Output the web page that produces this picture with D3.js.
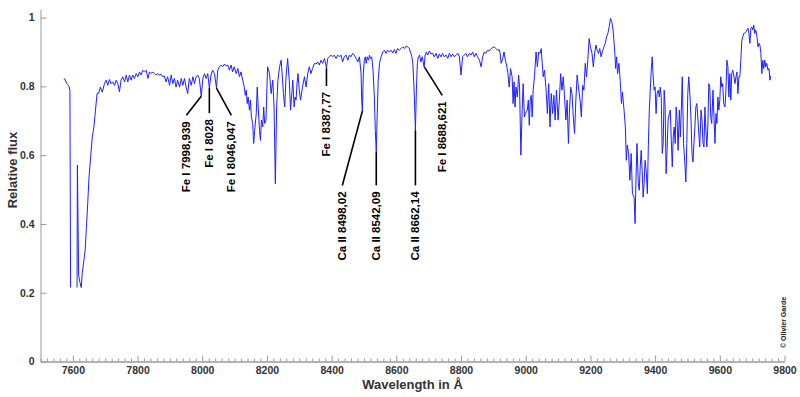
<!DOCTYPE html>
<html>
<head>
<meta charset="utf-8">
<script src="https://cdn.jsdelivr.net/npm/d3@7"></script>
<style>
    body { margin: 0; background: #fff; }
    svg { display: block; font-family: "Liberation Sans", Arial, Helvetica, sans-serif; }
    .axis path, .axis line { stroke: #9a9a9a; }
    .axis text { fill: #333; font-size: 10.5px; font-weight: bold; }
    .title { fill: #333; font-size: 13px; font-weight: bold; }
    .note { fill: #000; font-size: 11.5px; font-weight: bold; }
</style>
</head>
<body>
<svg width="800" height="397"></svg>
<script>
// spectrum (wavelength in A, relative flux; null = gap)
const wavelength = [
    7572, 7575, 7580, 7583, 7588, 7591, 7593, 7603, 7613, 7614, 7618, 7622, 7626, 7629, 7634, 7638,
    7642, 7646, 7650, 7655, 7660, 7665, 7670, 7675, 7680, 7685, 7691, 7698, 7703, 7708, 7713, 7718,
    7723, 7729, 7734, 7739, 7744, 7749, 7754, 7760, 7765, 7770, 7775, 7780, 7785, 7790, 7796, 7801,
    7806, 7811, 7816, 7821, 7827, 7832, 7837, 7842, 7847, 7852, 7858, 7862, 7868, 7873, 7878, 7883,
    7888, 7893, 7899, 7904, 7909, 7914, 7919, 7924, 7930, 7935, 7940, 7945, 7950, 7955, 7960, 7966,
    7971, 7976, 7981, 7986, 7991, 7997, 8002, 8007, 8012, 8017, 8022, 8027, 8032, 8038, 8044, 8048,
    8053, 8058, 8063, 8069, 8074, 8079, 8084, 8089, 8094, 8099, 8105, 8110, 8115, 8120, 8125, 8130,
    8133, 8136, 8139, 8142, 8146, 8149, 8152, 8156, 8159, 8162, 8167, 8170, 8173, 8177, 8180, 8183,
    8187, 8190, 8193, 8197, 8202, 8208, 8213, 8218, 8222, 8226, 8230, 8234, 8239, 8244, 8247, 8251,
    8255, 8259, 8264, 8269, 8273, 8277, 8280, 8284, 8287, 8290, 8293, 8296, 8300, 8304, 8310, 8316,
    8321, 8326, 8331, 8336, 8341, 8347, 8352, 8357, 8362, 8367, 8372, 8378, 8384, 8388, 8393, 8398,
    8403, 8408, 8414, 8419, 8424, 8429, 8434, 8439, 8445, 8450, 8455, 8460, 8465, 8470, 8476, 8481,
    8486, 8491, 8493, 8495, 8498, 8501, 8504, 8507, 8510, 8514, 8517, 8520, 8524, 8528, 8532, 8535,
    8538, 8541, 8544, 8548, 8553, 8558, 8563, 8568, 8573, 8578, 8584, 8589, 8594, 8599, 8604, 8609,
    8615, 8620, 8625, 8630, 8635, 8640, 8645, 8648, 8651, 8655, 8659, 8662, 8665, 8668, 8672, 8676,
    8680, 8686, 8689, 8693, 8697, 8702, 8707, 8712, 8717, 8723, 8728, 8733, 8738, 8743, 8748, 8754,
    8759, 8764, 8769, 8774, 8779, 8785, 8790, 8795, 8800, 8805, 8810, 8815, 8820, 8826, 8831, 8836,
    8841, 8846, 8851, 8857, 8862, 8867, 8872, 8877, 8882, 8887, 8893, 8898, 8903, 8908, 8913, 8918,
    8921, 8924, 8929, 8933, 8937, 8941, 8945, 8949, 8953, 8958, 8961, 8964, 8967, 8970, 8974, 8978,
    8981, 8985, 8989, 8992, 8996, 8999, 9002, 9005, 9008, 9011, 9014, 9017, 9020, 9023, 9027, 9032,
    9036, 9040, 9044, 9048, 9051, 9054, 9058, 9063, 9067, 9071, 9075, 9079, 9083, 9087, 9091, 9095,
    9100, 9104, 9108, 9112, 9116, 9120, 9124, 9128, 9132, 9135, 9139, 9143, 9147, 9151, 9155, 9159,
    9163, 9168, 9172, 9176, 9180, 9184, 9188, 9192, 9196, 9200, 9205, 9209, 9213, 9217, 9221, 9225,
    9229, 9233, 9238, 9242, 9246, 9250, 9254, 9258, 9262, 9266, 9270, 9275, 9278, 9281, 9284, 9288,
    9292, 9296, 9299, 9304, 9308, 9311, 9314, 9318, 9322, 9326, 9330, 9335, 9338, 9341, 9344, 9348,
    9351, 9354, 9357, 9360, 9363, 9366, 9369, 9373, 9376, 9379, 9382, 9385, 9388, 9391, 9394, 9397,
    9400, 9403, 9406, 9410, 9413, 9416, 9419, 9422, 9425, 9428, 9431, 9434, 9437, 9440, 9444, 9447,
    9450, 9453, 9456, 9459, 9462, 9465, 9468, 9471, 9475, 9478, 9481, 9484, 9488, 9492, 9495, 9498,
    9501, 9504, 9508, 9511, 9514, 9517, 9520, 9523, 9526, 9529, 9532, 9535, 9538, 9542, 9545, 9548,
    9551, 9554, 9557, 9560, 9563, 9566, 9569, 9572, 9575, 9579, 9582, 9585, 9588, 9591, 9594, 9597,
    9600, 9603, 9606, 9609, 9612, 9616, 9619, 9622, 9625, 9628, 9631, 9634, 9637, 9640, 9643, 9647,
    9650, 9653, 9656, 9659, 9662, 9665, 9668, 9671, 9674, 9677, 9681, 9684, 9687, 9690, 9693, 9696,
    9699, 9702, 9705, 9708, 9711, 9715, 9718, 9721, 9724, 9727, 9730, 9733, 9736, 9739, 9742, 9745,
    9749, 9752, 9755, 9757
];
const flux = [
    0.820, 0.822, 0.810, 0.806, 0.800, 0.789, 0.215, null, 0.215, 0.571, 0.250, 0.230, 0.215, 0.256, 0.294, 0.323,
    0.390, 0.460, 0.536, 0.594, 0.652, 0.681, 0.731, 0.780, 0.780, 0.798, 0.783, 0.809, 0.818, 0.803, 0.820, 0.808,
    0.813, 0.803, 0.818, 0.808, 0.784, 0.818, 0.828, 0.813, 0.833, 0.813, 0.833, 0.818, 0.833, 0.823, 0.837, 0.828,
    0.842, 0.833, 0.847, 0.842, 0.847, 0.823, 0.842, 0.837, 0.842, 0.837, 0.833, 0.837, 0.833, 0.835, 0.828, 0.830,
    0.813, 0.828, 0.803, 0.833, 0.808, 0.823, 0.798, 0.818, 0.798, 0.823, 0.803, 0.823, 0.798, 0.779, 0.823, 0.803,
    0.828, 0.808, 0.828, 0.833, 0.823, 0.771, 0.823, 0.837, 0.823, 0.837, 0.795, 0.833, 0.847, 0.837, 0.795, 0.847,
    0.857, 0.862, 0.857, 0.865, 0.859, 0.862, 0.847, 0.862, 0.842, 0.857, 0.837, 0.852, 0.828, 0.842, 0.818, 0.798,
    0.774, 0.789, 0.750, 0.769, 0.731, 0.760, 0.711, 0.692, 0.634, 0.672, 0.721, 0.798, 0.740, 0.672, 0.643, 0.702,
    0.682, 0.740, 0.692, 0.702, 0.857, 0.837, 0.779, 0.818, 0.740, 0.517, 0.740, 0.818, 0.857, 0.876, 0.837, 0.779,
    0.740, 0.828, 0.881, 0.818, 0.731, 0.779, 0.818, 0.740, 0.769, 0.760, 0.808, 0.837, 0.789, 0.760, 0.798, 0.828,
    0.798, 0.837, 0.857, 0.837, 0.852, 0.867, 0.865, 0.871, 0.862, 0.876, 0.867, 0.881, 0.853, 0.881, 0.886, 0.891,
    0.886, 0.891, 0.881, 0.891, 0.886, 0.891, 0.871, 0.886, 0.891, 0.876, 0.891, 0.886, 0.896, 0.891, 0.881, 0.871,
    0.886, 0.837, 0.760, 0.728, 0.837, 0.876, 0.886, 0.867, 0.886, 0.876, 0.891, 0.881, 0.886, 0.847, 0.769, 0.672,
    0.611, 0.721, 0.818, 0.867, 0.886, 0.900, 0.905, 0.896, 0.905, 0.900, 0.905, 0.897, 0.907, 0.896, 0.910, 0.905,
    0.910, 0.915, 0.910, 0.917, 0.915, 0.910, 0.896, 0.886, 0.867, 0.789, 0.672, 0.789, 0.867, 0.886, 0.891, 0.871,
    0.886, 0.856, 0.891, 0.900, 0.891, 0.903, 0.894, 0.897, 0.886, 0.896, 0.881, 0.894, 0.886, 0.896, 0.886, 0.891,
    0.881, 0.896, 0.886, 0.894, 0.886, 0.891, 0.896, 0.886, 0.833, 0.886, 0.891, 0.896, 0.886, 0.896, 0.891, 0.900,
    0.886, 0.896, 0.886, 0.876, 0.857, 0.886, 0.900, 0.896, 0.905, 0.903, 0.910, 0.913, 0.915, 0.910, 0.905, 0.907,
    0.896, 0.867, 0.881, 0.900, 0.876, 0.862, 0.837, 0.798, 0.852, 0.828, 0.750, 0.813, 0.740, 0.798, 0.769, 0.833,
    0.798, 0.600, 0.731, 0.808, 0.711, 0.721, 0.726, 0.731, 0.760, 0.687, 0.760, 0.774, 0.711, 0.789, 0.828, 0.900,
    0.857, 0.900, 0.896, 0.910, 0.867, 0.828, 0.847, 0.789, 0.721, 0.808, 0.682, 0.779, 0.721, 0.774, 0.702, 0.789,
    0.702, 0.760, 0.837, 0.789, 0.828, 0.769, 0.702, 0.760, 0.634, 0.721, 0.798, 0.779, 0.711, 0.663, 0.760, 0.833,
    0.798, 0.760, 0.711, 0.803, 0.789, 0.867, 0.828, 0.876, 0.939, 0.915, 0.896, 0.857, 0.896, 0.920, 0.905, 0.896,
    0.910, 0.886, 0.905, 0.915, 0.925, 0.944, 0.954, 0.973, 0.998, 0.988, 0.964, 0.905, 0.852, 0.886, 0.837, 0.867,
    0.818, 0.750, 0.784, 0.731, 0.682, 0.585, 0.629, 0.605, 0.527, 0.605, 0.488, 0.478, 0.401, 0.536, 0.634, 0.517,
    0.498, 0.566, 0.614, 0.556, 0.478, 0.517, 0.585, 0.546, 0.488, 0.624, 0.731, 0.789, 0.847, 0.886, 0.828, 0.789,
    0.798, 0.721, 0.779, 0.789, 0.769, 0.798, 0.769, 0.605, 0.634, 0.789, 0.740, 0.546, 0.614, 0.702, 0.721, 0.731,
    0.643, 0.566, 0.653, 0.682, 0.634, 0.740, 0.702, 0.614, 0.731, 0.653, 0.731, 0.828, 0.634, 0.576, 0.522, 0.634,
    0.779, 0.828, 0.769, 0.702, 0.605, 0.580, 0.634, 0.682, 0.740, 0.750, 0.711, 0.663, 0.624, 0.731, 0.702, 0.634,
    0.624, 0.740, 0.672, 0.624, 0.682, 0.808, 0.798, 0.711, 0.692, 0.789, 0.711, 0.634, 0.721, 0.692, 0.769, 0.731,
    0.760, 0.828, 0.798, 0.808, 0.750, 0.740, 0.789, 0.876, 0.857, 0.769, 0.837, 0.760, 0.837, 0.847, 0.833, 0.808,
    0.828, 0.842, 0.779, 0.828, 0.828, 0.876, 0.934, 0.944, 0.954, 0.954, 0.959, 0.964, 0.969, 0.954, 0.925, 0.969,
    0.973, 0.964, 0.978, 0.954, 0.964, 0.944, 0.915, 0.925, 0.920, 0.896, 0.837, 0.876, 0.852, 0.876, 0.857, 0.867,
    0.847, 0.852, 0.818, 0.830
];

// line identifications: where the leader touches the spectrum, and where the label hangs
const lineNames = ["Fe I 7998,939", "Fe I 8028", "Fe I 8046,047", "Fe I 8387,77",
    "Ca II 8498,02", "Ca II 8542,09", "Ca II 8662,14", "Fe I 8688,621"];
const lineWave = [7997, 8022, 8044, 8384, 8495, 8538, 8659, 8687];
const lineFlux = [0.771, 0.795, 0.795, 0.853, 0.728, 0.611, 0.672, 0.856];
const labelWave = [7951, 8022, 8090, 8384, 8433, 8538, 8659, 8742];
const labelFlux = [0.716, 0.722, 0.716, 0.801, 0.512, 0.512, 0.512, 0.774];

const xMajorTicks = d3.range(7600, 9801, 200);
const xMinorTicks = d3.range(7500, 9801, 20).filter((v) => v % 200 !== 0);
const yTicks = [0, 0.2, 0.4, 0.6, 0.8, 1];

const svg = d3.select("svg");

const x = d3.scaleLinear().domain([7500, 9800]).range([40.5, 784.5]);
const y = d3.scaleLinear().domain([0, 1.025]).range([361.5, 9]);

// axes (ticks point inward, no frame)
svg.append("g")
    .attr("class", "axis")
    .attr("transform", `translate(0, ${y(0)})`)
    .call(d3.axisBottom(x).tickValues(xMinorTicks).tickSizeInner(-3).tickSizeOuter(0).tickFormat(""));

svg.append("g")
    .attr("class", "axis")
    .attr("transform", `translate(0, ${y(0)})`)
    .call(
        d3.axisBottom(x)
            .tickValues(xMajorTicks)
            .tickSizeInner(-6)
            .tickSizeOuter(0)
            .tickPadding(5)
            .tickFormat(d3.format("d")),
    );

svg.append("g")
    .attr("class", "axis")
    .attr("transform", `translate(${x(7500)}, 0)`)
    .call(
        d3.axisLeft(y)
            .tickValues(yTicks)
            .tickSizeInner(-6)
            .tickSizeOuter(0)
            .tickPadding(6)
            .tickFormat((d) => (d === 0 || d === 1 ? String(d) : d3.format(".1f")(d))),
    );

// axis titles
svg.append("text")
    .attr("class", "title")
    .attr("x", (x.range()[0] + x.range()[1]) / 2)
    .attr("y", 389)
    .attr("text-anchor", "middle")
    .text("Wavelength in Å");

svg.append("text")
    .attr("class", "title")
    .attr("transform", "translate(17, 170) rotate(-90)")
    .attr("text-anchor", "middle")
    .text("Relative flux");

// spectrum
const points = wavelength.map((w, i) => ({ w, f: flux[i] }));
const line = d3.line()
    .defined((d) => d.f !== null)
    .x((d) => x(d.w))
    .y((d) => y(d.f));

svg.append("path")
    .datum(points)
    .attr("d", line)
    .attr("fill", "none")
    .attr("stroke", "#2020ff")
    .attr("stroke-width", 1)
    .attr("stroke-linejoin", "round");

// leaders + labels
const notes = lineNames.map((name, i) => ({
    name,
    x1: x(lineWave[i]), y1: y(lineFlux[i]),
    x2: x(labelWave[i]), y2: y(labelFlux[i]),
}));

svg.selectAll(".leader")
    .data(notes)
    .join("line")
    .attr("class", "leader")
    .attr("x1", (d) => d.x1)
    .attr("y1", (d) => d.y1)
    .attr("x2", (d) => d.x2)
    .attr("y2", (d) => d.y2)
    .attr("stroke", "#000")
    .attr("stroke-width", 1.6);

svg.selectAll(".note")
    .data(notes)
    .join("text")
    .attr("class", "note")
    .attr("transform", (d) => `translate(${d.x2 + 4}, ${d.y2 + 6}) rotate(-90)`)
    .attr("text-anchor", "end")
    .text((d) => d.name);

// credit
svg.append("text")
    .attr("transform", "translate(786, 348) rotate(-90)")
    .attr("font-size", "7px")
    .attr("font-weight", "bold")
    .attr("fill", "#222")
    .text("© Olivier Garde");
</script>
</body>
</html>
